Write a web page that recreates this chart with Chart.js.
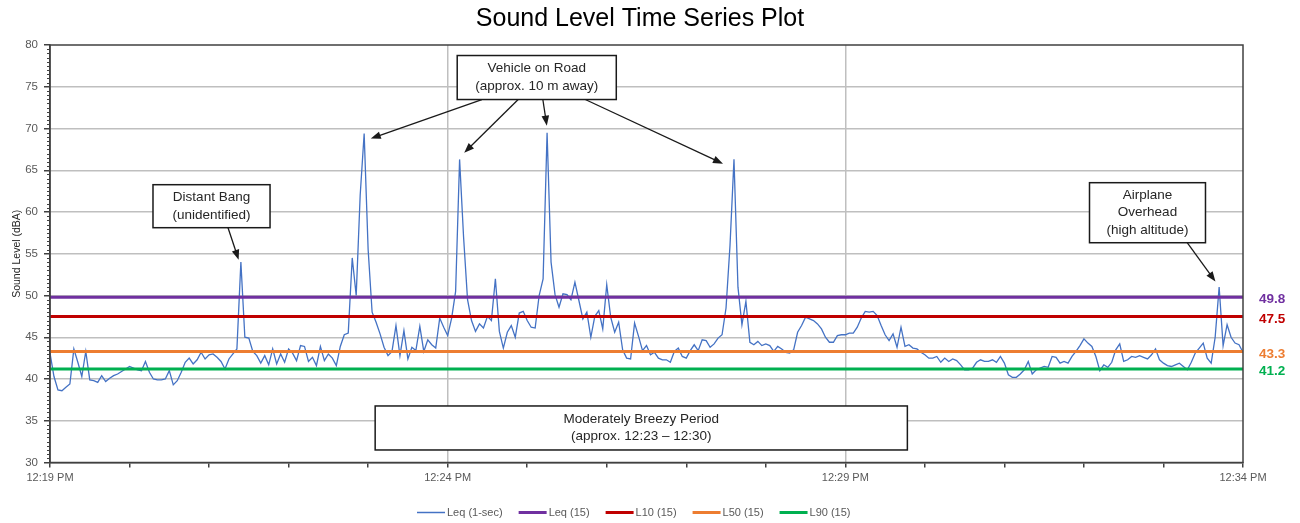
<!DOCTYPE html>
<html>
<head>
<meta charset="utf-8">
<title>Sound Level Time Series Plot</title>
<script src="https://cdn.jsdelivr.net/npm/chart.js@4.4.1/dist/chart.umd.min.js"></script>
<style>
body { margin: 0; background: #fff; }
canvas { display: block; }
</style>
</head>
<body>
<canvas id="chart" width="1300" height="523"></canvas>
<script>
// Leq (1-sec) readings, one kept every 3 s from 12:19 PM
var step = 3;
var leq = [
  43.1, 40.3, 38.7, 38.6, 39.0, 39.4, 43.6, 42.0, 40.3, 43.3,
  39.9, 39.8, 39.6, 40.4, 39.7, 40.1, 40.4, 40.6, 40.9, 41.2,
  41.5, 41.3, 41.1, 41.0, 42.1, 40.8, 40.0, 39.9, 39.9, 40.0,
  41.0, 39.3, 39.8, 40.8, 42.0, 42.5, 41.8, 42.3, 43.2, 42.4,
  42.9, 43.0, 42.6, 42.1, 41.2, 42.4, 43.0, 43.6, 54.0, 45.0,
  44.9, 43.3, 42.8, 41.9, 42.8, 41.7, 43.6, 41.8, 43.0, 42.0,
  43.6, 43.1, 42.2, 44.0, 43.9, 42.1, 42.6, 41.6, 43.9, 42.2,
  43.0, 42.5, 41.6, 43.9, 45.3, 45.5, 54.5, 50.0, 62.0, 69.4,
  55.5, 48.0, 46.8, 45.4, 43.8, 42.8, 43.3, 46.4, 42.8, 45.8,
  42.4, 43.8, 43.4, 46.3, 43.3, 44.7, 44.1, 43.7, 47.3, 46.2,
  45.2, 47.3, 50.5, 66.3, 57.0, 49.5, 47.0, 45.7, 46.6, 46.1,
  47.5, 47.0, 52.0, 45.7, 43.7, 45.6, 46.4, 45.0, 47.9, 48.1,
  47.0, 46.2, 46.1, 50.0, 52.0, 69.5, 54.0, 50.1, 48.6, 50.2,
  50.1, 49.5, 51.6, 49.4, 47.2, 48.0, 45.0, 47.5, 48.2, 46.0,
  51.3, 47.4, 45.6, 46.8, 43.5, 42.5, 42.4, 46.7, 45.1, 43.4,
  44.0, 42.9, 43.2, 42.5, 42.3, 42.3, 42.0, 43.3, 43.7, 42.7,
  42.5, 43.4, 44.1, 43.4, 44.7, 44.6, 43.8, 44.2, 44.9, 45.3,
  48.5, 56.0, 66.3, 51.0, 46.5, 49.3, 44.4, 44.1, 44.5, 44.0,
  44.2, 44.0, 43.3, 43.9, 43.6, 43.2, 43.1, 43.5, 45.6, 46.4,
  47.4, 47.2, 47.0, 46.6, 46.0, 45.0, 44.4, 44.4, 45.2, 45.3,
  45.3, 45.5, 45.5, 46.2, 47.3, 48.1, 48.0, 48.1, 47.6, 46.4,
  45.3, 44.6, 45.4, 43.8, 46.2, 43.9, 44.1, 43.7, 43.6, 43.2,
  42.9, 42.5, 42.5, 42.7, 42.0, 42.5, 42.1, 42.4, 42.2, 41.7,
  41.1, 41.1, 41.3, 42.0, 42.3, 42.1, 42.1, 42.3, 42.0, 42.7,
  41.9, 40.5, 40.2, 40.2, 40.6, 41.1, 42.1, 40.6, 41.1, 41.3,
  41.5, 41.4, 42.7, 42.6, 41.9, 42.1, 41.9, 42.7, 43.3, 44.0,
  44.8, 44.3, 43.9, 42.7, 41.0, 41.7, 41.4, 42.0, 43.5, 44.2,
  42.1, 42.3, 42.7, 42.6, 42.8, 42.6, 42.4, 42.9, 43.6, 42.3,
  41.9, 41.6, 41.5, 41.7, 41.9, 41.5, 41.1, 42.0, 43.1, 43.7,
  44.3, 42.5, 41.9, 45.0, 51.0, 44.0, 46.5, 45.0, 44.3, 44.1, 43.2
];

// 15-minute summary levels
var statLabels = ['Leq (15)', 'L10 (15)', 'L50 (15)', 'L90 (15)'];
var statValues = [49.8, 47.5, 43.3, 41.2];
var statColors = ['#7030a0', '#c00000', '#ed7d31', '#00b050'];

var timeLabels = ['12:19 PM', '12:24 PM', '12:29 PM', '12:34 PM'];
var duration = 900; // seconds

// callouts: box = [t from, t to, dB top, dB bottom], arrows = [t0, dB0, t1, dB1]
var notes = [
  { lines: ['Distant Bang', '(unidentified)'], box: [77.7, 166.0, 63.27, 58.12],
    arrows: [[134.3, 58.12, 142.3, 54.28]] },
  { lines: ['Vehicle on Road', '(approx. 10 m away)'], box: [307.2, 427.2, 78.74, 73.47],
    arrows: [[325.8, 73.47, 242.0, 68.79], [353.2, 73.47, 312.5, 67.1],
             [371.8, 73.47, 374.8, 70.34], [403.8, 73.47, 507.7, 65.79]] },
  { lines: ['Moderately Breezy Period', '(approx. 12:23 \u2013 12:30)'], box: [245.3, 646.8, 36.77, 31.5],
    arrows: [] },
  { lines: ['Airplane', 'Overhead', '(high altitude)'], box: [784.2, 871.7, 63.51, 56.32],
    arrows: [[857.9, 56.32, 879.2, 51.68]] }
];

var FONT = '"Liberation Sans", Arial, sans-serif';

var datasets = [{
  label: 'Leq (1-sec)',
  data: leq.map(function (v, i) { return { x: i * step, y: v }; }),
  borderColor: '#4472c4',
  borderWidth: 1.3,
  pointRadius: 0,
  order: 1
}];
statValues.forEach(function (v, k) {
  datasets.push({
    label: statLabels[k],
    data: [{ x: 0, y: v }, { x: duration, y: v }],
    borderColor: statColors[k],
    borderWidth: 3,
    pointRadius: 0,
    order: 0
  });
});

function drawArrow(ctx, x0, y0, x1, y1) {
  var a = Math.atan2(y1 - y0, x1 - x0), c = Math.cos(a), s = Math.sin(a);
  ctx.beginPath();
  ctx.moveTo(x0, y0);
  ctx.lineTo(x1 - 6 * c, y1 - 6 * s);
  ctx.stroke();
  ctx.beginPath();
  ctx.moveTo(x1, y1);
  ctx.lineTo(x1 - 10 * c + 3.8 * s, y1 - 10 * s - 3.8 * c);
  ctx.lineTo(x1 - 10 * c - 3.8 * s, y1 - 10 * s + 3.8 * c);
  ctx.closePath();
  ctx.fill();
}

var extras = {
  id: 'extras',
  beforeDraw: function (chart) {
    var ctx = chart.ctx;
    ctx.save();
    ctx.fillStyle = '#fff';
    ctx.fillRect(0, 0, chart.width, chart.height);
    ctx.restore();
  },
  afterDraw: function (chart) {
    var ctx = chart.ctx, area = chart.chartArea;
    var xs = chart.scales.x, ys = chart.scales.y;
    ctx.save();

    // plot frame
    ctx.strokeStyle = '#404040';
    ctx.lineWidth = 1.5;
    ctx.strokeRect(area.left, area.top, area.right - area.left, area.bottom - area.top);

    // minor ticks on the dB axis
    ctx.lineWidth = 1;
    for (var v = 30.5; v < 80; v += 0.5) {
      if (v % 5 === 0) continue;
      var yy = Math.round(ys.getPixelForValue(v)) + 0.5;
      ctx.beginPath();
      ctx.moveTo(area.left - 3, yy);
      ctx.lineTo(area.left, yy);
      ctx.stroke();
    }

    // summary values at the right end of each line
    ctx.font = 'bold 13.5px ' + FONT;
    ctx.textAlign = 'left';
    ctx.textBaseline = 'middle';
    statValues.forEach(function (v, k) {
      ctx.fillStyle = statColors[k];
      ctx.fillText(v.toFixed(1), area.right + 16, ys.getPixelForValue(v) + 2.5);
    });

    // callout boxes and arrows
    notes.forEach(function (n) {
      var x0 = xs.getPixelForValue(n.box[0]), x1 = xs.getPixelForValue(n.box[1]);
      var y0 = ys.getPixelForValue(n.box[2]), y1 = ys.getPixelForValue(n.box[3]);
      ctx.fillStyle = '#fff';
      ctx.fillRect(x0, y0, x1 - x0, y1 - y0);
      ctx.strokeStyle = '#1a1a1a';
      ctx.lineWidth = 1.5;
      ctx.strokeRect(x0, y0, x1 - x0, y1 - y0);
      ctx.fillStyle = '#262626';
      ctx.font = '13.5px ' + FONT;
      ctx.textAlign = 'center';
      var lh = 17.5, cy = (y0 + y1) / 2 - (n.lines.length - 1) * lh / 2;
      n.lines.forEach(function (t, j) {
        ctx.fillText(t, (x0 + x1) / 2, cy + j * lh);
      });
      ctx.strokeStyle = '#1a1a1a';
      ctx.fillStyle = '#1a1a1a';
      ctx.lineWidth = 1.3;
      n.arrows.forEach(function (a) {
        drawArrow(ctx, xs.getPixelForValue(a[0]), ys.getPixelForValue(a[1]),
                  xs.getPixelForValue(a[2]), ys.getPixelForValue(a[3]));
      });
    });

    // title
    ctx.fillStyle = '#000';
    ctx.font = '25px ' + FONT;
    ctx.textAlign = 'center';
    ctx.fillText('Sound Level Time Series Plot', 640, 19);

    // y axis title
    ctx.save();
    ctx.translate(17, (area.top + area.bottom) / 2);
    ctx.rotate(-Math.PI / 2);
    ctx.font = '10.5px ' + FONT;
    ctx.fillStyle = '#262626';
    ctx.fillText('Sound Level (dBA)', 0, 0);
    ctx.restore();

    // legend
    var lx = 417, ly = 512.5;
    ctx.font = '11px ' + FONT;
    ctx.textAlign = 'left';
    chart.data.datasets.forEach(function (d) {
      ctx.strokeStyle = d.borderColor;
      ctx.lineWidth = d.borderWidth < 2 ? 1.5 : 3;
      ctx.beginPath();
      ctx.moveTo(lx, ly);
      ctx.lineTo(lx + 28, ly);
      ctx.stroke();
      ctx.fillStyle = '#595959';
      ctx.fillText(d.label, lx + 30, ly);
      lx += 30 + ctx.measureText(d.label).width + 16;
    });

    ctx.restore();
  }
};

new Chart(document.getElementById('chart'), {
  type: 'line',
  data: { datasets: datasets },
  options: {
    responsive: false,
    animation: false,
    layout: { padding: { top: 45, right: 57, left: 0, bottom: 0 } },
    plugins: { legend: { display: false }, tooltip: { enabled: false } },
    scales: {
      x: {
        type: 'linear',
        min: 0,
        max: duration,
        afterFit: function (s) { s.height = 60.5; },
        ticks: {
          stepSize: 60,
          autoSkip: false,
          maxRotation: 0,
          padding: 4,
          color: '#595959',
          font: { family: FONT, size: 11 },
          callback: function (v) { return v % 300 === 0 ? timeLabels[v / 300] : ''; }
        },
        grid: {
          color: function (c) {
            var v = c.tick ? c.tick.value : 0;
            return (v % 300 === 0 && v > 0 && v < duration) ? '#bfbfbf' : 'rgba(0,0,0,0)';
          },
          lineWidth: 1.5,
          tickColor: '#404040',
          tickLength: 5
        },
        border: { color: '#404040', width: 1.5 }
      },
      y: {
        min: 30,
        max: 80,
        afterFit: function (s) { s.width = 50; },
        ticks: {
          stepSize: 5,
          padding: 6,
          color: '#595959',
          font: { family: FONT, size: 11.5 }
        },
        grid: {
          color: function (c) {
            var v = c.tick ? c.tick.value : 30;
            return (v > 30 && v < 80) ? '#bfbfbf' : 'rgba(0,0,0,0)';
          },
          lineWidth: 1.5,
          tickColor: '#404040',
          tickLength: 6
        },
        border: { color: '#404040', width: 1.5 }
      }
    }
  },
  plugins: [extras]
});
</script>
</body>
</html>
